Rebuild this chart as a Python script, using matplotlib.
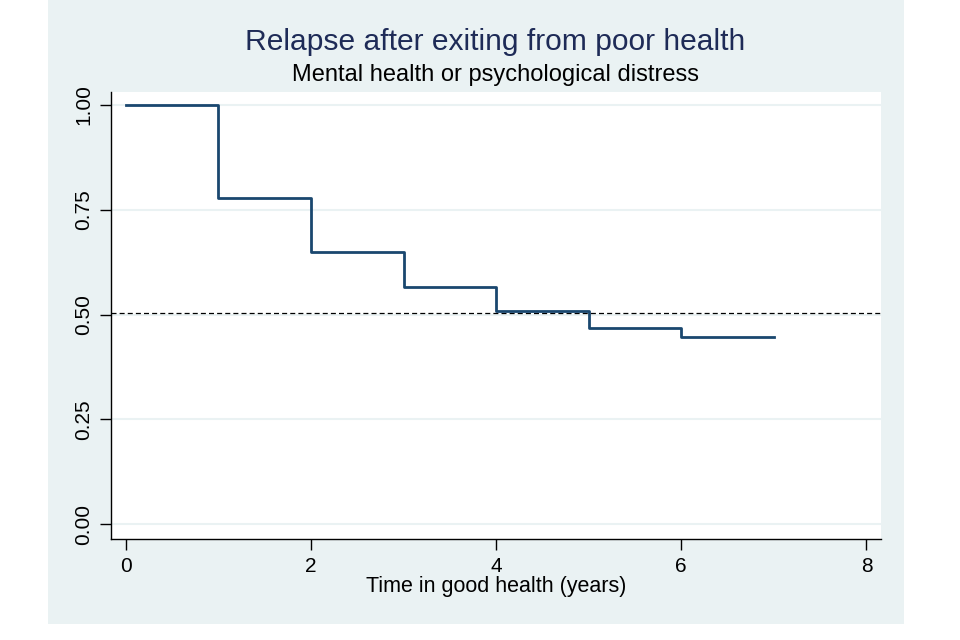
import matplotlib
matplotlib.use('Agg')
import matplotlib.pyplot as plt
from matplotlib.patches import Rectangle

plt.rcParams['font.family'] = ['Liberation Sans', 'DejaVu Sans']

# --- Data ---
years = [0, 1, 2, 3, 4, 5, 6, 7]
survival = [1.0, 0.778, 0.649, 0.565, 0.508, 0.467, 0.446, 0.446]
median_line = 0.503
x_ticks = [0, 2, 4, 6, 8]
y_ticks = [0.0, 0.25, 0.5, 0.75, 1.0]
y_labels = ['0.00', '0.25', '0.50', '0.75', '1.00']

PANEL = '#eaf2f3'
LINE = '#1a476f'
W, H = 960, 640

fig = plt.figure(figsize=(9.6, 6.4), dpi=100, facecolor='white')

# light panel behind the plot (Stata style)
fig.patches.append(Rectangle((48 / W, 1 - 624 / H), (904 - 48) / W, 624 / H,
                             transform=fig.transFigure, facecolor=PANEL,
                             edgecolor='none', zorder=-10))

ax = fig.add_axes([111 / W, 1 - 539 / H, (881 - 111) / W, (539 - 92) / H])
ax.set_zorder(1)
ax.set_facecolor('white')

ax.step(years, survival, where='post', color=LINE, lw=2.0, zorder=3)
ax.axhline(median_line, color='black', lw=0.9, ls=(0, (4, 2.5)), zorder=2)

ax.set_xlim(-0.159, 8.157)
ax.set_ylim(-0.035, 1.031)
ax.set_xticks(x_ticks)
ax.set_xticklabels([str(t) for t in x_ticks], fontsize=15)
ax.set_yticks(y_ticks)
ax.set_yticklabels(y_labels, fontsize=15, rotation=90, va='center')
for t in y_ticks:
    ax.axhline(t, color=PANEL, lw=1.5, zorder=1)

for side in ['top', 'right']:
    ax.spines[side].set_visible(False)
ax.spines['left'].set_linewidth(1.0)
ax.spines['bottom'].set_linewidth(1.0)
ax.tick_params(length=8, width=1.0, pad=5)

ax.set_xlabel('Time in good health (years)', fontsize=15.5, labelpad=0)

fig.text(495 / W, 1 - 42 / H, 'Relapse after exiting from poor health',
         ha='center', va='center', fontsize=21.6, color='#1e2b57')
fig.text(495 / W, 1 - 75 / H, 'Mental health or psychological distress',
         ha='center', va='center', fontsize=17, color='black')

fig.savefig('out.png', dpi=100, facecolor='white')
